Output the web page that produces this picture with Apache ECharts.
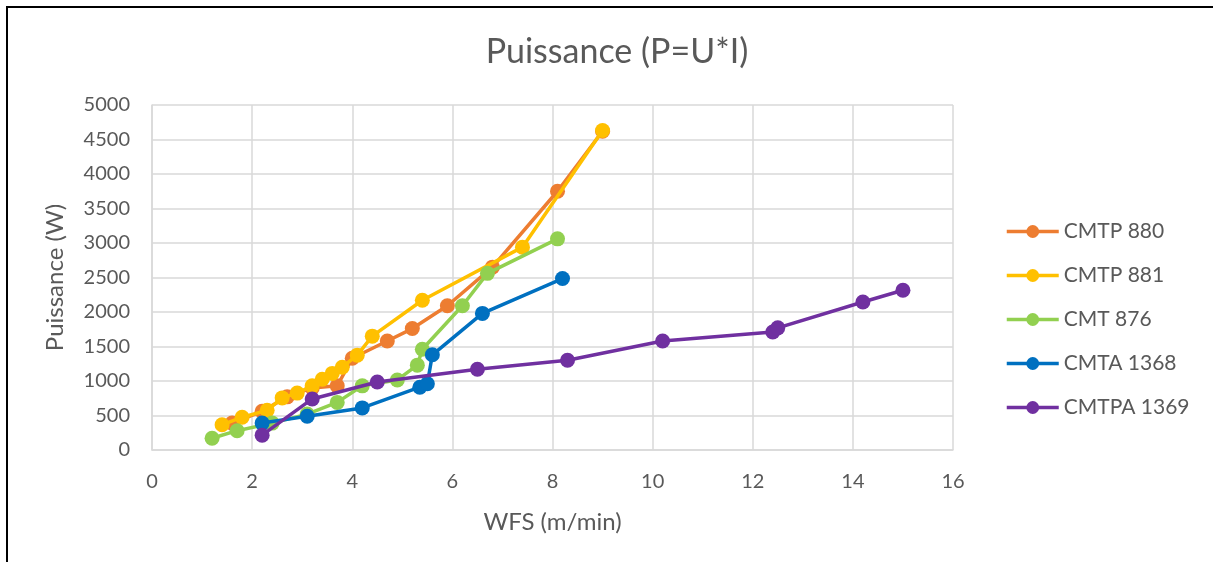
<!DOCTYPE html>
<html><head><meta charset="utf-8">
<script src="https://cdn.jsdelivr.net/npm/echarts@6/dist/echarts.min.js"></script>
<style>html,body{margin:0;padding:0;background:#fff}#c{width:1213px;height:562px}</style>
</head><body><div id="c"></div>
<script>
const seriesNames = ['CMTP 880','CMTP 881','CMT 876','CMTA 1368','CMTPA 1369'];
const colors = ['#ED7D31','#FFC000','#92D050','#0070C0','#7030A0'];
const cmtp880 = [[1.6,390],[2.2,560],[2.7,770],[3.2,900],[3.7,930],[4.0,1330],[4.7,1580],[5.2,1760],[5.9,2090],[6.8,2650],[8.1,3750],[9.0,4620]];
const cmtp881 = [[1.4,365],[1.8,475],[2.3,575],[2.6,755],[2.9,825],[3.2,930],[3.4,1025],[3.6,1110],[3.8,1200],[4.1,1375],[4.4,1650],[5.4,2170],[7.4,2940],[9.0,4630]];
const cmt876 = [[1.2,170],[1.7,280],[2.4,390],[3.1,520],[3.7,690],[4.2,930],[4.9,1015],[5.3,1230],[5.4,1460],[6.2,2090],[6.7,2560],[8.1,3060]];
const cmta1368 = [[2.2,390],[3.1,490],[4.2,610],[5.35,910],[5.5,960],[5.6,1380],[6.6,1980],[8.2,2485]];
const cmtpa1369 = [[2.2,215],[3.2,740],[4.5,985],[6.5,1170],[8.3,1300],[10.2,1580],[12.4,1710],[12.5,1770],[14.2,2145],[15.0,2315]];
const allData = [cmtp880,cmtp881,cmt876,cmta1368,cmtpa1369];
const xTicks = {min:0,max:16,interval:2};
const yTicks = {min:0,max:5000,interval:500};

const chart = echarts.init(document.getElementById('c'));
const txt = '#595959', font = 'Lato';
chart.setOption({
  animation:false,
  textStyle:{fontFamily:font},
  title:{text:'Puissance (P=U*I)',left:612,top:30,textAlign:'center',
    textStyle:{fontFamily:font,fontSize:34,fontWeight:'normal',color:txt}},
  grid:{left:152,top:105,width:801,height:345,containLabel:false},
  legend:{orient:'vertical',left:1000,top:216,itemGap:23,itemWidth:52,itemHeight:16,
    lineStyle:{width:3.5},
    textStyle:{fontFamily:font,fontSize:21,color:txt},data:seriesNames},
  xAxis:{type:'value',min:xTicks.min,max:xTicks.max,interval:xTicks.interval,
    name:'WFS (m/min)',nameLocation:'middle',nameGap:60,
    nameTextStyle:{fontFamily:font,fontSize:24,color:txt},
    axisLine:{show:true,lineStyle:{color:'#d9d9d9',width:1.5}},axisTick:{show:false},
    axisLabel:{fontFamily:font,fontSize:20,color:txt,margin:22},
    splitLine:{show:true,lineStyle:{color:'#d9d9d9',width:1.5}}},
  yAxis:{type:'value',min:yTicks.min,max:yTicks.max,interval:yTicks.interval,
    name:'Puissance (W)',nameLocation:'middle',nameGap:85,nameRotate:90,
    nameTextStyle:{fontFamily:font,fontSize:24,color:txt},
    axisLine:{show:true,lineStyle:{color:'#d9d9d9',width:1.5}},axisTick:{show:false},
    axisLabel:{fontFamily:font,fontSize:20,color:txt,margin:22,formatter:v=>String(v)},
    splitLine:{show:true,lineStyle:{color:'#d9d9d9',width:1.5}}},
  series: seriesNames.map((n,i)=>({
    name:n,type:'line',data:allData[i],symbol:'circle',symbolSize:15,
    lineStyle:{width:3.5,color:colors[i]},itemStyle:{color:colors[i]},z:2+i
  })),
  graphic:[
    {type:'line',shape:{x1:7,y1:6,x2:7,y2:562},style:{stroke:'#000',lineWidth:2},silent:true},
    {type:'line',shape:{x1:6,y1:7,x2:1213,y2:7},style:{stroke:'#000',lineWidth:2},silent:true}
  ]
});
</script></body></html>
